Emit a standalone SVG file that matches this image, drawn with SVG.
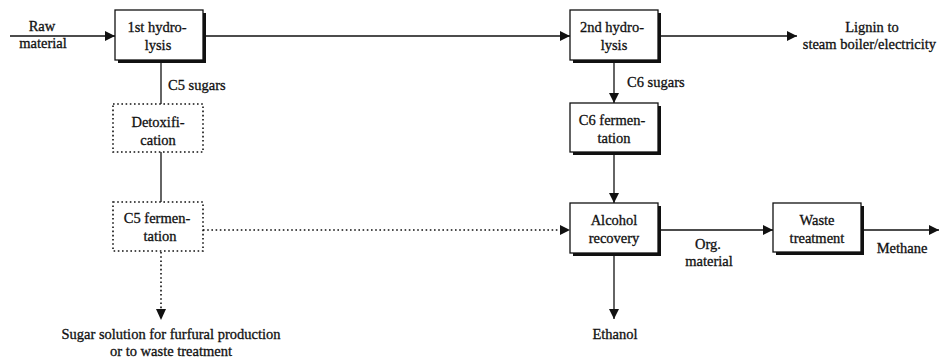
<svg xmlns="http://www.w3.org/2000/svg" width="939" height="362" viewBox="0 0 939 362">
  <style>
    text { font-family: "Liberation Serif", "Times New Roman", serif; font-size: 14.5px; fill: #111; text-anchor: middle; stroke: #111; stroke-width: 0.3; }
    .lbl { text-anchor: start; }
    .box { fill: #fff; stroke: #111; stroke-width: 1.3; }
    .shadow { fill: #111; }
    .dotbox { fill: #fff; stroke: #111; stroke-width: 1.6; stroke-dasharray: 1.6 2.6; }
    .line { fill: none; stroke: #111; stroke-width: 1.3; }
    .dotline { fill: none; stroke: #111; stroke-width: 1.6; stroke-dasharray: 1.6 2.6; }
  </style>
  <defs>
    <marker id="arrow" viewBox="0 0 10 10" refX="10" refY="5" markerWidth="11" markerHeight="10" markerUnits="userSpaceOnUse" orient="auto">
      <path d="M0,0 L10,5 L0,10 Z" fill="#111"/>
    </marker>
  </defs>
  <rect width="939" height="362" fill="#fff"/>

  <g id="connectors">
    <line class="line" x1="10" y1="36" x2="115" y2="36" marker-end="url(#arrow)"/>
    <line class="line" x1="203" y1="36" x2="570" y2="36" marker-end="url(#arrow)"/>
    <line class="line" x1="658" y1="36" x2="797" y2="36" marker-end="url(#arrow)"/>
    <line class="line" x1="161" y1="60" x2="161" y2="104"/>
    <line class="line" x1="161" y1="152" x2="161" y2="202"/>
    <line class="dotline" x1="161" y1="252" x2="161" y2="310"/>
    <path d="M156,309 L166,309 L161,320 Z" fill="#111"/>
    <line class="dotline" x1="203" y1="230" x2="560" y2="230"/>
    <path d="M560,225 L570,230 L560,235 Z" fill="#111"/>
    <line class="line" x1="614" y1="60" x2="614" y2="103" marker-end="url(#arrow)"/>
    <line class="line" x1="614" y1="152" x2="614" y2="203" marker-end="url(#arrow)"/>
    <line class="line" x1="614" y1="253" x2="614" y2="319" marker-end="url(#arrow)"/>
    <line class="line" x1="658" y1="230" x2="773" y2="230" marker-end="url(#arrow)"/>
    <line class="line" x1="862" y1="230" x2="939" y2="230" marker-end="url(#arrow)"/>
  </g>

  <g id="raw-material">
    <text x="42" y="31">Raw</text>
    <text x="43" y="48">material</text>
  </g>

  <g id="hydrolysis-1">
    <rect class="shadow" x="118" y="13" width="88" height="50"/>
    <rect class="box" x="115" y="10" width="88" height="50"/>
    <text x="157" y="32">1st hydro-</text>
    <text x="158" y="50">lysis</text>
  </g>

  <g id="c5-sugars-label">
    <text class="lbl" x="168" y="90">C5 sugars</text>
  </g>

  <g id="detoxification">
    <rect class="dotbox" x="113" y="104" width="90" height="48"/>
    <text x="158" y="127">Detoxifi-</text>
    <text x="158" y="145">cation</text>
  </g>

  <g id="c5-fermentation">
    <rect class="dotbox" x="113" y="202" width="90" height="49"/>
    <text x="157" y="223">C5 fermen-</text>
    <text x="160" y="241">tation</text>
  </g>

  <g id="sugar-solution">
    <text x="171" y="339">Sugar solution for furfural production</text>
    <text x="171" y="356">or to waste treatment</text>
  </g>

  <g id="hydrolysis-2">
    <rect class="shadow" x="573" y="13" width="88" height="50"/>
    <rect class="box" x="570" y="10" width="88" height="50"/>
    <text x="612" y="32">2nd hydro-</text>
    <text x="614" y="50">lysis</text>
  </g>

  <g id="lignin">
    <text x="872" y="32">Lignin to</text>
    <text x="936" y="49" style="text-anchor:end">steam boiler/electricity</text>
  </g>

  <g id="c6-sugars-label">
    <text class="lbl" x="627" y="87">C6 sugars</text>
  </g>

  <g id="c6-fermentation">
    <rect class="shadow" x="573" y="106" width="88" height="49"/>
    <rect class="box" x="570" y="103" width="88" height="49"/>
    <text x="612" y="125">C6 fermen-</text>
    <text x="614" y="143">tation</text>
  </g>

  <g id="alcohol-recovery">
    <rect class="shadow" x="573" y="206" width="88" height="50"/>
    <rect class="box" x="570" y="203" width="88" height="50"/>
    <text x="614" y="225">Alcohol</text>
    <text x="614" y="243">recovery</text>
  </g>

  <g id="ethanol">
    <text x="615" y="339">Ethanol</text>
  </g>

  <g id="org-material">
    <text x="708" y="249">Org.</text>
    <text x="709" y="266">material</text>
  </g>

  <g id="waste-treatment">
    <rect class="shadow" x="776" y="206" width="88" height="49"/>
    <rect class="box" x="773" y="203" width="88" height="49"/>
    <text x="817" y="225">Waste</text>
    <text x="817" y="243">treatment</text>
  </g>

  <g id="methane">
    <text x="902" y="253">Methane</text>
  </g>
</svg>
